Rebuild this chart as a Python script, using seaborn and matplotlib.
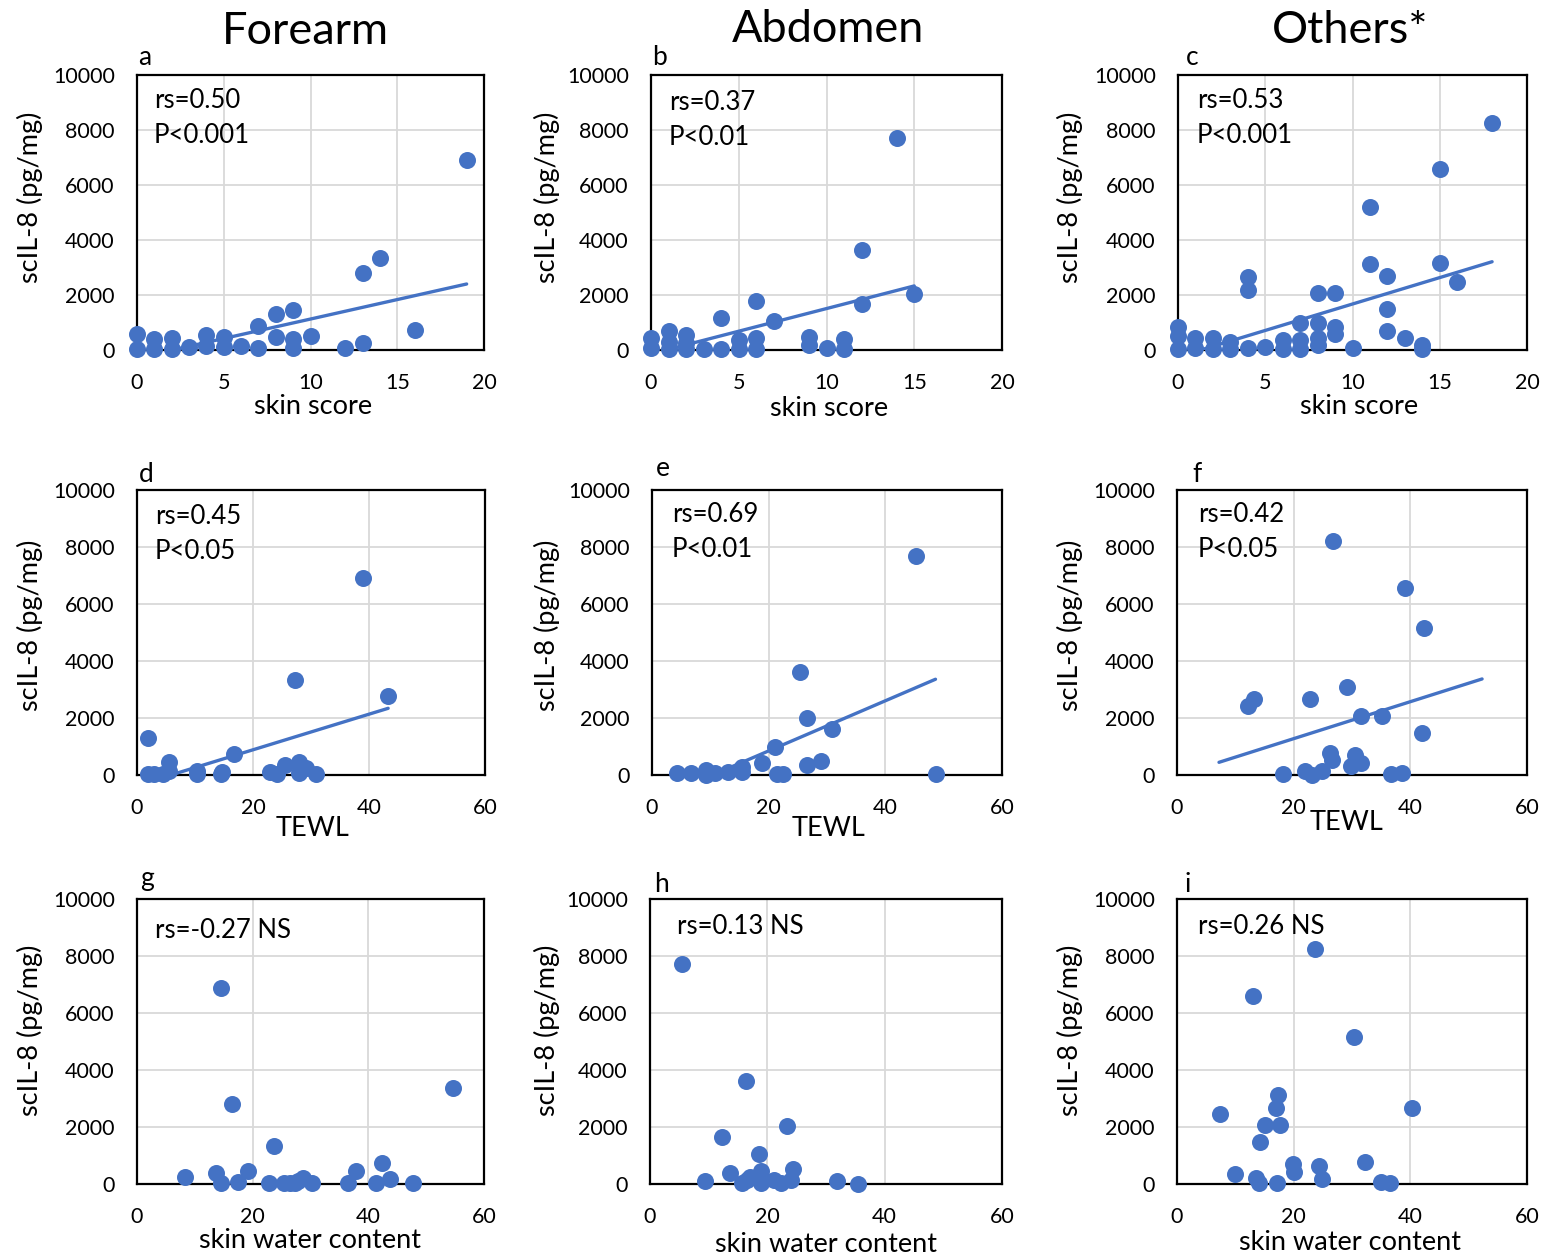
import numpy as np
import pandas as pd
import matplotlib
matplotlib.use("Agg")
import matplotlib.pyplot as plt
import seaborn as sns

sns.set_style("white")
plt.rcParams['font.family'] = ['Lato', 'DejaVu Sans']
plt.rcParams['text.color'] = 'black'
plt.rcParams['axes.labelcolor'] = 'black'
plt.rcParams['xtick.color'] = 'black'
plt.rcParams['ytick.color'] = 'black'

# ---------------- data ----------------
column_titles = ["Forearm", "Abdomen", "Others*"]
panel_letters = ["a", "b", "c", "d", "e", "f", "g", "h", "i"]
row_xlabels = ["skin score", "TEWL", "skin water content"]
y_label = "scIL-8 (pg/mg)"
y_ticks = [0, 2000, 4000, 6000, 8000, 10000]
x_ticks_score = [0, 5, 10, 15, 20]
x_ticks_other = [0, 20, 40, 60]

stat_lines = [
    ["rs=0.50", "P<0.001"], ["rs=0.37", "P<0.01"], ["rs=0.53", "P<0.001"],
    ["rs=0.45", "P<0.05"], ["rs=0.69", "P<0.01"], ["rs=0.42", "P<0.05"],
    ["rs=-0.27 NS"], ["rs=0.13 NS"], ["rs=0.26 NS"],
]

# a: forearm vs skin score
a_x = [0, 0, 1, 1, 2, 2, 3, 4, 4, 5, 5, 6, 7, 7, 8, 8, 9, 9, 9, 10, 12, 13, 13, 14, 16, 19]
a_y = [600, 30, 400, 30, 420, 30, 100, 540, 150, 460, 100, 160, 880, 60, 1300, 460, 1460, 400, 60, 520, 60, 2790, 240, 3350, 740, 6900]
# b: abdomen vs skin score
b_x = [0, 0, 1, 1, 1, 2, 2, 2, 3, 4, 4, 5, 5, 6, 6, 6, 7, 9, 9, 10, 11, 11, 12, 12, 14, 15]
b_y = [420, 60, 700, 280, 20, 545, 240, 20, 30, 1150, 30, 360, 30, 1800, 420, 30, 1060, 485, 180, 60, 390, 30, 3640, 1660, 7700, 2020]
# c: others vs skin score
c_x = [0, 0, 0, 1, 1, 2, 2, 3, 3, 4, 4, 4, 5, 6, 6, 7, 7, 7, 8, 8, 8, 8, 9, 9, 9, 10,
       11, 11, 12, 12, 12, 13, 14, 14, 15, 15, 16, 18]
c_y = [850, 510, 20, 420, 60, 420, 30, 300, 20, 2670, 2200, 60, 120, 360, 30, 970, 360, 30,
       2080, 970, 420, 180, 2080, 850, 600, 60, 5190, 3130, 2700, 1490, 690, 420, 180, 30,
       6570, 3170, 2480, 8240]
# d: forearm vs TEWL
d_x = [1.9, 1.9, 3.0, 4.5, 5.5, 5.5, 10.4, 10.4, 14.7, 14.5, 16.8, 22.9, 24.2, 25.5, 27.3, 28.0, 28.0, 29.2, 30.9, 39.0, 43.2]
d_y = [1310, 20, 20, 20, 470, 140, 140, 20, 90, 30, 725, 94, 20, 350, 3330, 470, 60, 240, 23, 6900, 2770]
# e: abdomen vs TEWL
e_x = [4.35, 6.6, 9.2, 9.2, 10.8, 13.1, 15.5, 15.5, 18.8, 21.0, 21.4, 22.5, 25.3, 26.6, 26.6, 28.9, 30.8, 45.3, 48.6]
e_y = [60, 60, 175, 10, 60, 117, 290, 94, 410, 1000, 25, 25, 3600, 1990, 350, 490, 1600, 7700, 25]
# f: others vs TEWL
f_x = [12.2, 13.2, 18.1, 21.9, 23.1, 24.8, 22.8, 26.2, 26.6, 26.7, 29.2, 29.9, 30.5, 31.6, 31.5, 35.2, 36.6, 38.5, 39.0, 42.0, 42.4]
f_y = [2430, 2670, 25, 140, 10, 140, 2670, 780, 530, 8210, 3100, 316, 700, 410, 2070, 2080, 25, 58, 6550, 1460, 5150]
# g: forearm vs skin water content
g_x = [8.3, 13.7, 14.6, 14.6, 16.4, 17.4, 19.2, 22.9, 23.7, 25.5, 26.4, 27.3, 27.8, 28.7, 30.3, 36.5, 37.8, 41.3, 42.3, 43.8, 47.8, 54.6]
g_y = [234, 374, 23, 6890, 2800, 70, 467, 23, 1320, 23, 23, 23, 117, 210, 23, 47, 467, 47, 736, 187, 23, 3360]
# h: abdomen vs skin water content
h_x = [5.5, 9.3, 12.3, 13.6, 15.6, 16.3, 16.6, 17.1, 18.6, 18.9, 19.0, 21.1, 22.3, 23.4, 24.0, 24.3, 31.9, 35.4]
h_y = [7710, 93, 1647, 385, 35, 3630, 140, 257, 1050, 467, 35, 140, 35, 2020, 140, 537, 93, 10]
# i: others vs skin water content
i_x = [7.4, 9.9, 13.0, 13.5, 14.1, 14.2, 15.1, 16.9, 17.3, 17.1, 17.7, 19.8, 20.1, 23.6, 24.3, 24.9, 30.3, 32.2, 35.0, 36.5, 40.2]
i_y = [2470, 353, 6590, 200, 35, 1470, 2080, 2680, 3120, 35, 2080, 705, 435, 8260, 623, 176, 5170, 788, 82, 35, 2680]

# linear trendlines (start/end) (panels a-f)
trend_a_x, trend_a_y = [0, 19], [-290, 2400]
trend_b_x, trend_b_y = [0, 15], [-140, 2330]
trend_c_x, trend_c_y = [0, 18], [-250, 3210]
trend_d_x, trend_d_y = [1.9, 43.3], [-246, 2340]
trend_e_x, trend_e_y = [4.35, 48.6], [-530, 3360]
trend_f_x, trend_f_y = [7.2, 52.3], [445, 3370]

panels = [
    (a_x, a_y, (trend_a_x, trend_a_y)), (b_x, b_y, (trend_b_x, trend_b_y)), (c_x, c_y, (trend_c_x, trend_c_y)),
    (d_x, d_y, (trend_d_x, trend_d_y)), (e_x, e_y, (trend_e_x, trend_e_y)), (f_x, f_y, (trend_f_x, trend_f_y)),
    (g_x, g_y, None), (h_x, h_y, None), (i_x, i_y, None),
]

# ---------------- layout ----------------
W, H = 1542, 1259
BLUE = "#4472C4"
fig = plt.figure(figsize=(W / 100, H / 100), dpi=100)
fig.patch.set_facecolor("white")

def fx(x):
    return x / W

def fy(y):
    return 1 - y / H

# axes boxes in pixels: left, top, right, bottom
boxes = [
    (137, 75, 484, 350), (651, 75, 1002, 350), (1178, 75, 1527, 350),
    (137, 490, 485, 775), (652, 490, 1002, 775), (1177, 490, 1527, 775),
    (137, 899, 484, 1184), (650, 899, 1002, 1184), (1177, 899, 1527, 1184),
]
letter_pos = [(145, 65), (660, 65), (1192, 65), (146, 482), (663, 476), (1197, 482),
              (147, 886), (661, 892), (1188, 892)]
stat_pos = [(154, 108), (669, 110), (1197, 108), (155, 524), (672, 522), (1198, 522),
            (155, 938), (677, 934), (1198, 934)]
ylabel_x = [30, 547, 1070]
ylabel_y = [197, 625, 1030]
xlabel_pos = [[(313, 407), (829, 409), (1359, 407)],
              [(312, 828), (829, 828), (1347, 823)],
              [(310, 1240), (826, 1245), (1350, 1243)]]
title_pos = [(305, 44), (828, 42), (1350, 43)]

TICK_FS = 15.5
LABEL_FS = 19.5
LETTER_FS = 19
STAT_FS = 18.5

for k, (xs, ys, trend) in enumerate(panels):
    l, t, r, b = boxes[k]
    ax = fig.add_axes([fx(l), fy(b), fx(r) - fx(l), (b - t) / H])
    row, col = divmod(k, 3)
    df = pd.DataFrame({"x": xs, "y": ys})
    sns.scatterplot(data=df, x="x", y="y", ax=ax, color=BLUE, s=150, linewidth=0,
                    clip_on=False, zorder=3, legend=False)
    if trend is not None:
        tdf = pd.DataFrame({"x": trend[0], "y": trend[1]})
        sns.lineplot(data=tdf, x="x", y="y", ax=ax, color=BLUE, linewidth=2.4,
                     zorder=4, legend=False, sort=False)
    ax.set_ylim(0, 10000)
    ax.set_yticks(y_ticks)
    if row == 0:
        ax.set_xlim(0, 20)
        ax.set_xticks(x_ticks_score)
    else:
        ax.set_xlim(0, 60)
        ax.set_xticks(x_ticks_other)
    ax.set_xlabel("")
    ax.set_ylabel("")
    ax.grid(True, color="#D9D9D9", linewidth=1.3)
    ax.set_axisbelow(True)
    for sp in ax.spines.values():
        sp.set_color("black")
        sp.set_linewidth(1.6)
        sp.set_visible(True)
    ax.tick_params(axis="y", length=0, pad=16, labelsize=TICK_FS, colors="black")
    ax.tick_params(axis="x", length=0, pad=16.5, labelsize=TICK_FS, colors="black")

    lx, ly = letter_pos[k]
    fig.text(fx(lx), fy(ly), panel_letters[k], ha="center", va="baseline", fontsize=LETTER_FS)
    sx, sy = stat_pos[k]
    for j, line in enumerate(stat_lines[k]):
        fig.text(fx(sx), fy(sy + 35 * j), line, ha="left", va="baseline", fontsize=STAT_FS)

    fig.text(fx(ylabel_x[col]), fy(ylabel_y[row]), y_label, rotation=90,
             ha="center", va="center", fontsize=LABEL_FS)
    xlx, xly = xlabel_pos[row][col]
    fig.text(fx(xlx), fy(xly), row_xlabels[row], ha="center", va="center", fontsize=LABEL_FS)

for c, title in enumerate(column_titles):
    tx, ty = title_pos[c]
    fig.text(fx(tx), fy(ty), title, ha="center", va="baseline", fontsize=32.5)

fig.savefig("out.png", dpi=100, facecolor="white")
